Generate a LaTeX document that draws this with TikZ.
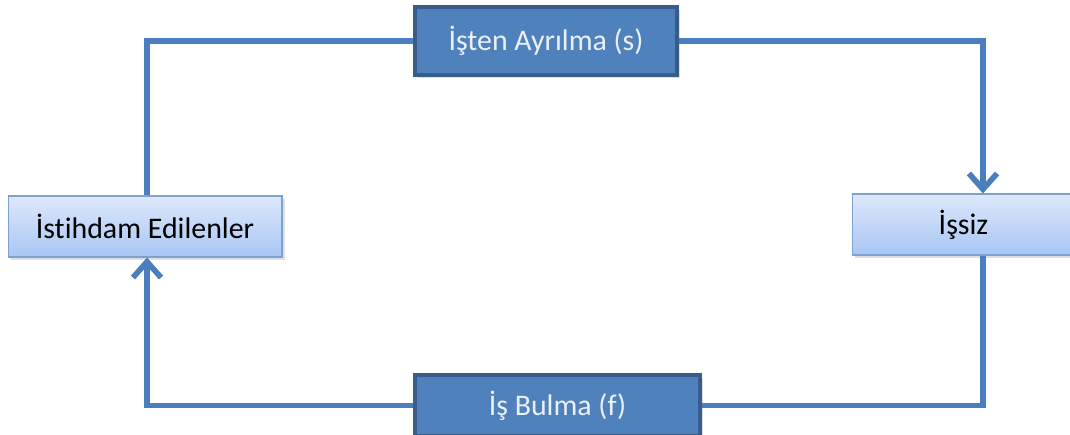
\documentclass[tikz,border=0pt]{standalone}
\usepackage{fontspec}
\setmainfont{Carlito}[Ligatures=NoCommon]
\usetikzlibrary{positioning,arrows.meta,shadows}

\definecolor{koyumavi}{HTML}{4F81BD}
\definecolor{koyucerceve}{HTML}{385D8A}
\definecolor{acikust}{HTML}{DDE8FB}
\definecolor{acikalt}{HTML}{A8C6F5}
\definecolor{acikcerceve}{HTML}{7DA2D2}
\definecolor{cizgi}{HTML}{4A7EBF}

\tikzset{
    durum/.style={draw=acikcerceve, line width=0.6pt, top color=acikust, bottom color=acikalt,
        minimum height=1.22cm, font=\fontsize{17}{20}\selectfont,
        drop shadow={shadow xshift=1.5pt, shadow yshift=-1.5pt, opacity=0.25}},
    akis/.style={draw=koyucerceve, line width=1.8pt, fill=koyumavi, text=white!88!koyumavi,
        font=\fontsize{17}{20}\selectfont,
        drop shadow={shadow xshift=1.5pt, shadow yshift=-1.5pt, opacity=0.25}},
    ok/.style={draw=cizgi, line width=3.2pt, line join=miter},
    uc/.style={-{Straight Barb[length=9pt, width=16pt]}}
}

\begin{document}
\begin{tikzpicture}[x=0.02cm, y=-0.02cm]
    \useasboundingbox (0,0) rectangle (1070,434);

    % Durumlar
    \node[durum, minimum width=5.48cm] (istihdam) at (145,226.5) {İstihdam Edilenler};
    \node[durum, minimum width=4.46cm] (issiz) at (963.5,224.5) {İşsiz};

    % Akislar
    \node[akis, minimum width=5.24cm, minimum height=1.36cm] (ayrilma) at (546,41) {İşten Ayrılma (s)};
    \node[akis, minimum width=5.7cm, minimum height=1.22cm] (bulma) at (557.5,405.5) {İş Bulma (f)};

    % Baglantilar
    \draw[ok] (ayrilma.west) -| ([xshift=0.04cm]istihdam.north);
    \draw[ok, uc] (ayrilma.east) -| ([xshift=0.39cm]issiz.north);
    \draw[ok] ([xshift=0.39cm]issiz.south) |- (bulma.east);
    \draw[ok, uc] (bulma.west) -| ([xshift=0.04cm]istihdam.south);
\end{tikzpicture}
\end{document}
